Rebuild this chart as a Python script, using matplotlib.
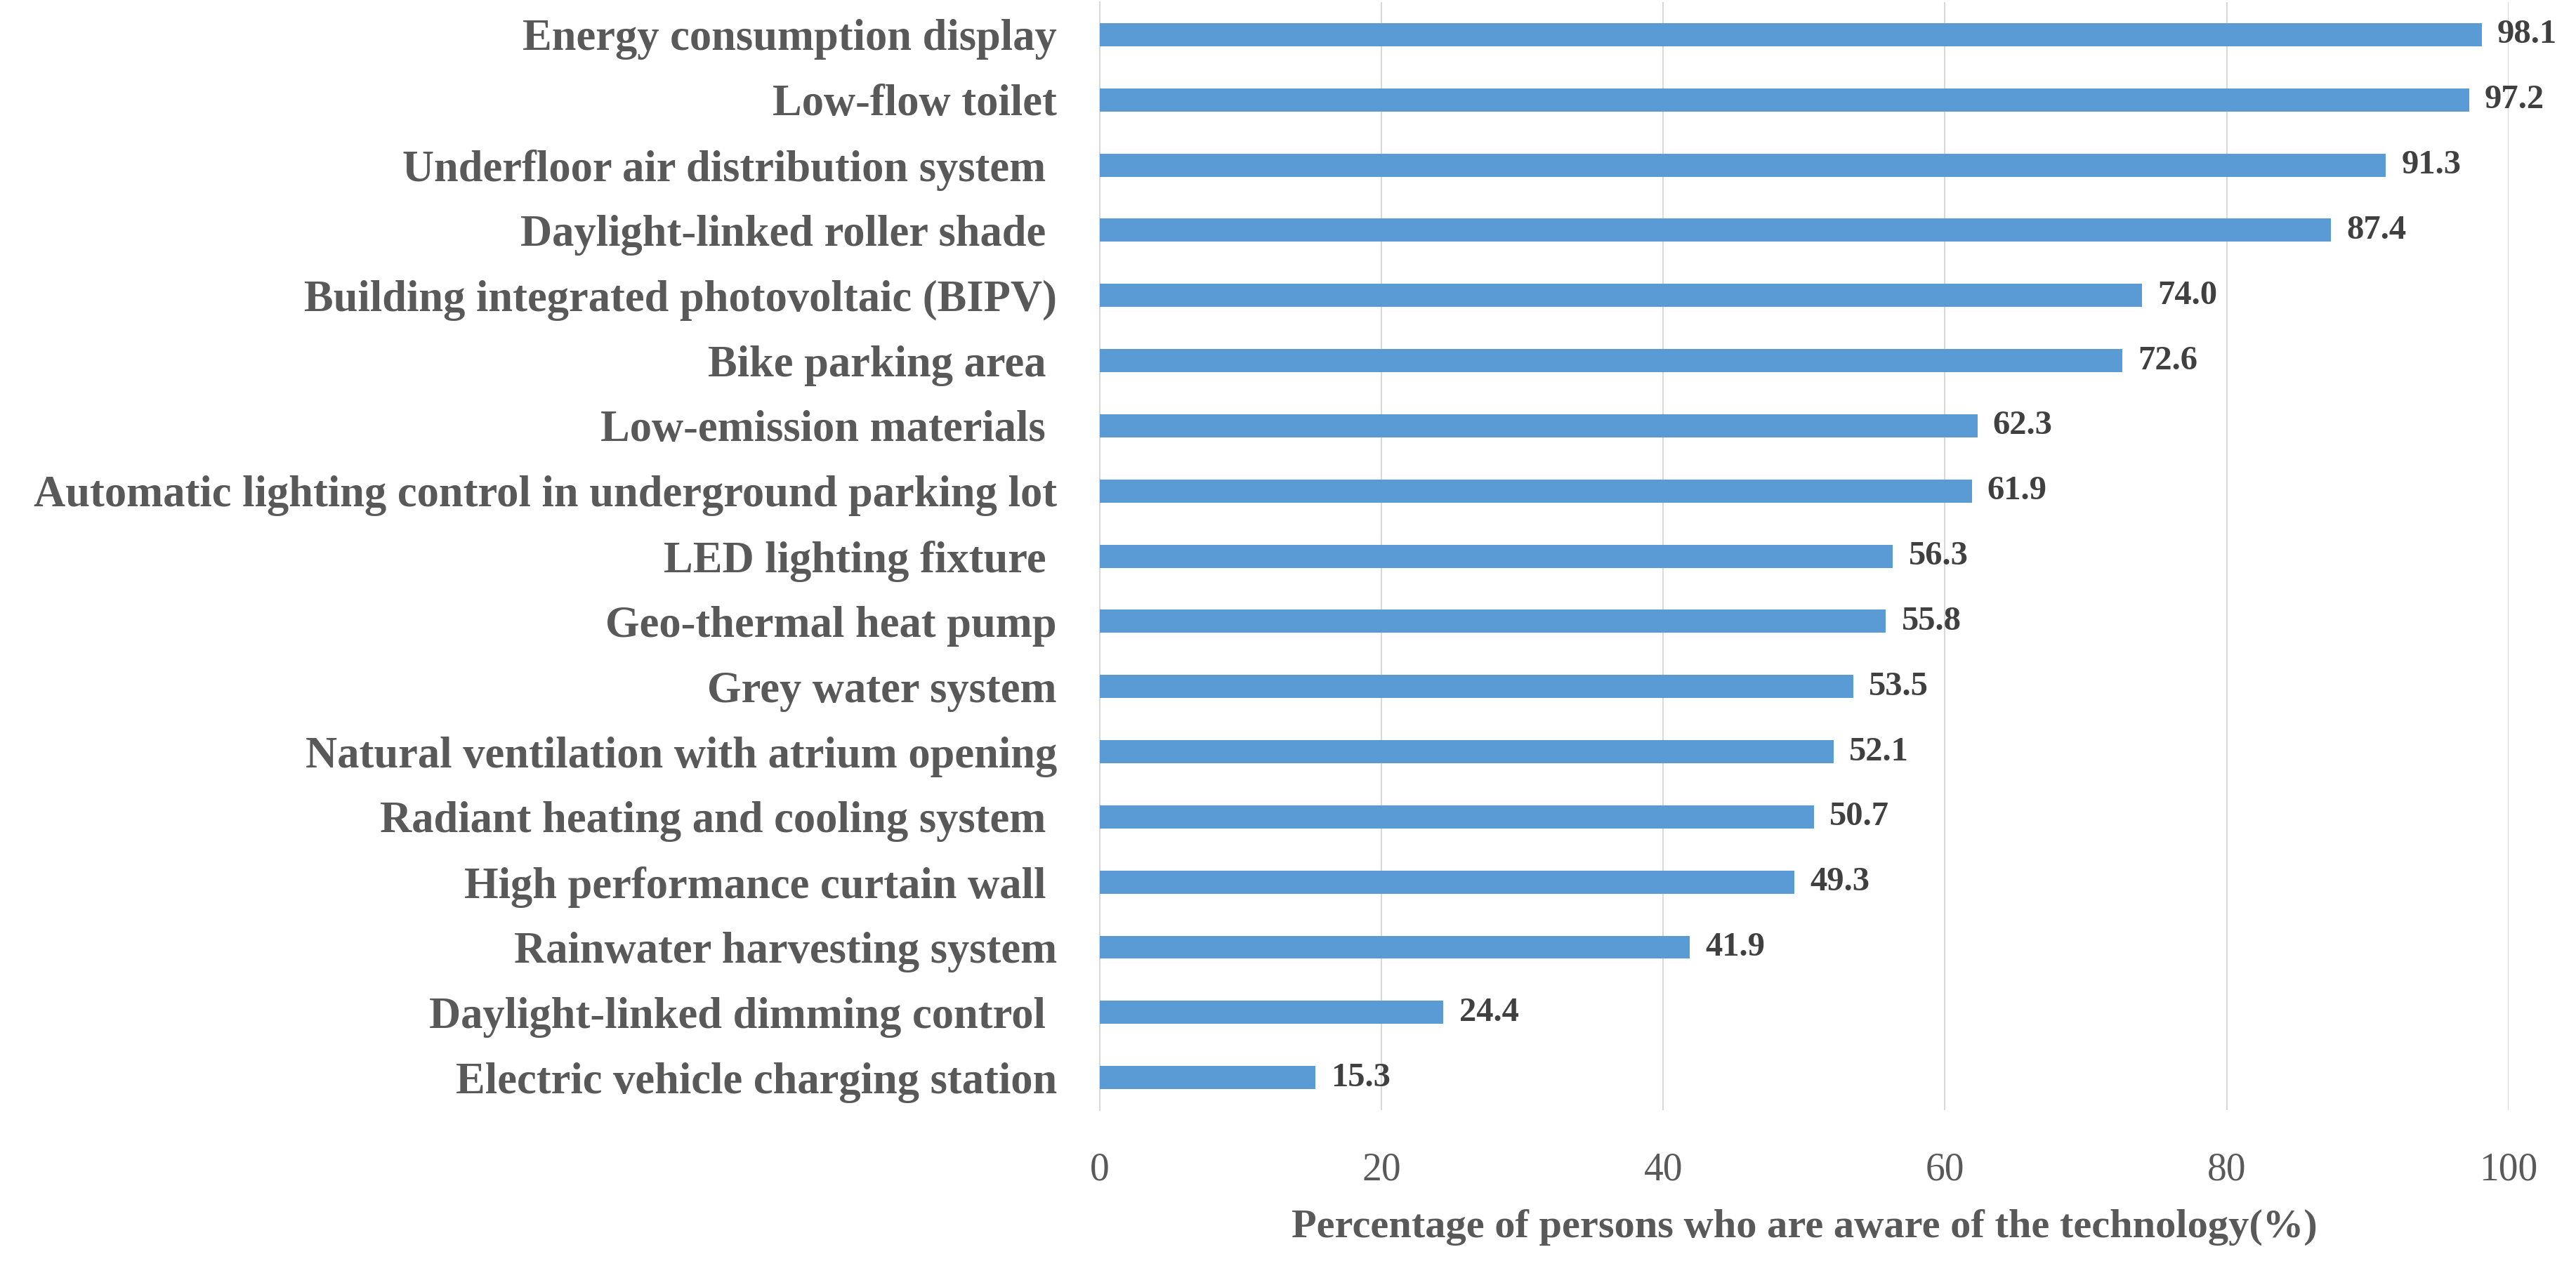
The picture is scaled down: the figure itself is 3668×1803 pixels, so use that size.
import matplotlib.pyplot as plt

# categories listed top to bottom as in the chart
technologies = [
    'Energy consumption display',
    'Low-flow toilet',
    'Underfloor air distribution system ',
    'Daylight-linked roller shade ',
    'Building integrated photovoltaic (BIPV)',
    'Bike parking area ',
    'Low-emission materials ',
    'Automatic lighting control in underground parking lot',
    'LED lighting fixture ',
    'Geo-thermal heat pump',
    'Grey water system',
    'Natural ventilation with atrium opening',
    'Radiant heating and cooling system ',
    'High performance curtain wall ',
    'Rainwater harvesting system',
    'Daylight-linked dimming control ',
    'Electric vehicle charging station',
]
awareness = [98.1, 97.2, 91.3, 87.4, 74.0, 72.6, 62.3, 61.9, 56.3, 55.8,
             53.5, 52.1, 50.7, 49.3, 41.9, 24.4, 15.3]
x_ticks = [0, 20, 40, 60, 80, 100]

plt.rcParams['font.family'] = ['Liberation Serif', 'DejaVu Serif']

fig = plt.figure(figsize=(36.68, 18.03), dpi=100)
ax = fig.add_axes([0.4269, 0.1231, 0.5469, 0.8752])

ypos = list(range(len(technologies)))
ax.barh(ypos, awareness, height=0.355, color='#5B9BD5', zorder=3)

# value labels just right of each bar
for y, v in zip(ypos, awareness):
    ax.annotate(f'{v:.1f}', (v, y), xytext=(16, 0), textcoords='offset points',
                va='center', ha='left', fontsize=35, fontweight='bold', color='#404040')

ax.set_yticks(ypos)
ax.set_yticklabels(technologies, fontsize=45, fontweight='bold', color='#595959')
ax.set_ylim(len(technologies) - 0.5, -0.5)
ax.set_xlim(0, 100)
ax.set_xticks(x_ticks)
ax.set_xticklabels([str(t) for t in x_ticks], fontsize=40, color='#595959')
ax.tick_params(axis='both', length=0)
ax.tick_params(axis='y', pad=44)
ax.tick_params(axis='x', pad=43)

ax.grid(axis='x', color='#D9D9D9', linewidth=1.5, zorder=0)
for s in ['top', 'right', 'bottom']:
    ax.spines[s].set_visible(False)
ax.spines['left'].set_color('#D9D9D9')
ax.spines['left'].set_linewidth(1.5)

ax.set_xlabel('Percentage of persons who are aware of the technology(%)',
              fontsize=42, fontweight='bold', color='#595959', labelpad=21)

fig.savefig('out.png', dpi=100)
